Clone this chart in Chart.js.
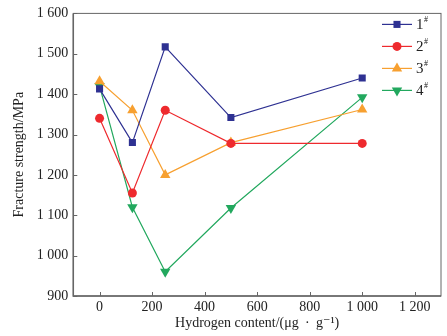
<!DOCTYPE html>
<html>
<head>
<meta charset="utf-8">
<script src="https://cdn.jsdelivr.net/npm/chart.js@4/dist/chart.umd.min.js"></script>
<style>
  html, body { margin: 0; padding: 0; background: #fff; }
  #wrap { width: 447px; height: 336px; }
</style>
</head>
<body>
<div id="wrap"><canvas id="chart" width="447" height="336"></canvas></div>
<script>
// ====== DATA ======
const hydrogenContent = [0, 125, 250, 500, 1000];
const sample1 = [1413, 1280, 1517, 1342, 1440];
const sample2 = [1340, 1155, 1360, 1278, 1278];
const sample3 = [1432, 1360, 1200, 1280, 1362];
const sample4 = [1420, 1120, 960, 1118, 1392];
const seriesNames = ['1', '2', '3', '4'];
const xTicks = [0, 200, 400, 600, 800, 1000, 1200];
const yTicks = [900, 1000, 1100, 1200, 1300, 1400, 1500, 1600];

const colors = ['#2e3192', '#ee2a2e', '#f7a030', '#22a85e'];
const FONT = '"Liberation Serif", "DejaVu Serif", serif';

// thousands with a space, like "1 600"
function fmt(v) {
  return v >= 1000 ? Math.floor(v / 1000) + ' ' + String(v % 1000).padStart(3, '0') : String(v);
}

function toPoints(ys) {
  return hydrogenContent.map((x, i) => ({ x: x, y: ys[i] }));
}

const styles = [
  { pointStyle: 'rect', rotation: 0, radius: 5 },
  { pointStyle: 'circle', rotation: 0, radius: 4.5 },
  { pointStyle: 'triangle', rotation: 0, radius: 6 },
  { pointStyle: 'triangle', rotation: 180, radius: 6 }
];

const datasets = [sample1, sample2, sample3, sample4].map((ys, i) => ({
  label: seriesNames[i] + '#',
  data: toPoints(ys),
  borderColor: colors[i],
  backgroundColor: colors[i],
  borderWidth: 1.2,
  pointStyle: styles[i].pointStyle,
  rotation: styles[i].rotation,
  pointRadius: styles[i].radius,
  pointBorderWidth: 0,
  tension: 0
}));

// ====== PLUGINS ======
// frame + inward tick marks
const framePlugin = {
  id: 'frame',
  afterDraw(chart) {
    const ctx = chart.ctx;
    const a = chart.chartArea;
    const xs = chart.scales.x, ys = chart.scales.y;
    ctx.save();
    ctx.strokeStyle = '#666';
    ctx.lineWidth = 1;
    ctx.strokeRect(a.left, a.top, a.right - a.left, a.bottom - a.top);
    ctx.lineWidth = 1.5;
    ctx.beginPath();
    ctx.moveTo(a.left, a.top);
    ctx.lineTo(a.left, a.bottom);
    ctx.lineTo(a.right, a.bottom);
    ctx.stroke();
    ctx.lineWidth = 1;
    xTicks.forEach(v => {
      const px = Math.round(xs.getPixelForValue(v)) + 0.5;
      ctx.beginPath();
      ctx.moveTo(px, a.bottom);
      ctx.lineTo(px, a.bottom - 4);
      ctx.stroke();
    });
    yTicks.forEach(v => {
      const py = Math.round(ys.getPixelForValue(v)) + 0.5;
      ctx.beginPath();
      ctx.moveTo(a.left, py);
      ctx.lineTo(a.left + 4, py);
      ctx.stroke();
    });
    ctx.restore();
  }
};

// legend with superscript "#"
const legendPlugin = {
  id: 'supLegend',
  afterDraw(chart) {
    const ctx = chart.ctx;
    const a = chart.chartArea;
    const x0 = a.right - 59;
    ctx.save();
    chart.data.datasets.forEach((ds, i) => {
      const y = a.top + 11 + i * 22;
      ctx.strokeStyle = ds.borderColor;
      ctx.lineWidth = 1.2;
      ctx.beginPath();
      ctx.moveTo(x0, y);
      ctx.lineTo(x0 + 30, y);
      ctx.stroke();
      ctx.fillStyle = ds.backgroundColor;
      Chart.helpers.drawPoint(ctx, {
        pointStyle: ds.pointStyle,
        rotation: ds.rotation,
        radius: ds.pointRadius,
        borderWidth: 0
      }, x0 + 15, y);
      ctx.fillStyle = '#222';
      ctx.textBaseline = 'middle';
      ctx.textAlign = 'left';
      ctx.font = '15px ' + FONT;
      ctx.fillText(seriesNames[i], x0 + 34, y + 1);
      const w = ctx.measureText(seriesNames[i]).width;
      ctx.font = '8px ' + FONT;
      ctx.fillText('#', x0 + 34 + w + 0.5, y - 4);
    });
    ctx.restore();
  }
};

// ====== CHART ======
new Chart(document.getElementById('chart'), {
  type: 'line',
  data: { datasets: datasets },
  plugins: [framePlugin, legendPlugin],
  options: {
    responsive: false,
    animation: false,
    layout: { padding: { top: 4, right: 4, left: 11, bottom: 6 } },
    plugins: {
      legend: { display: false },
      tooltip: { enabled: false }
    },
    scales: {
      x: {
        type: 'linear',
        min: -100,
        max: 1300,
        afterBuildTicks: s => { s.ticks = xTicks.map(v => ({ value: v })); },
        grid: { display: false, drawTicks: false },
        border: { display: false },
        ticks: {
          color: '#222',
          padding: 4,
          font: { family: FONT, size: 14, lineHeight: 1 },
          callback: v => fmt(v),
          maxRotation: 0
        },
        title: {
          display: true,
          text: 'Hydrogen content/(\u03bcg \u2009\u00b7\u2009 g\u207b\u00b9)',
          color: '#222',
          font: { family: FONT, size: 14, lineHeight: 1 },
          padding: { top: -2, bottom: 0 }
        }
      },
      y: {
        type: 'linear',
        min: 900,
        max: 1600,
        afterBuildTicks: s => { s.ticks = yTicks.map(v => ({ value: v })); },
        grid: { display: false, drawTicks: false },
        border: { display: false },
        ticks: {
          color: '#222',
          padding: 5,
          font: { family: FONT, size: 14 },
          callback: v => fmt(v)
        },
        title: {
          display: true,
          text: 'Fracture strength/MPa',
          color: '#222',
          font: { family: FONT, size: 14 },
          padding: { top: 0, bottom: 4 }
        }
      }
    }
  }
});
</script>
</body>
</html>
